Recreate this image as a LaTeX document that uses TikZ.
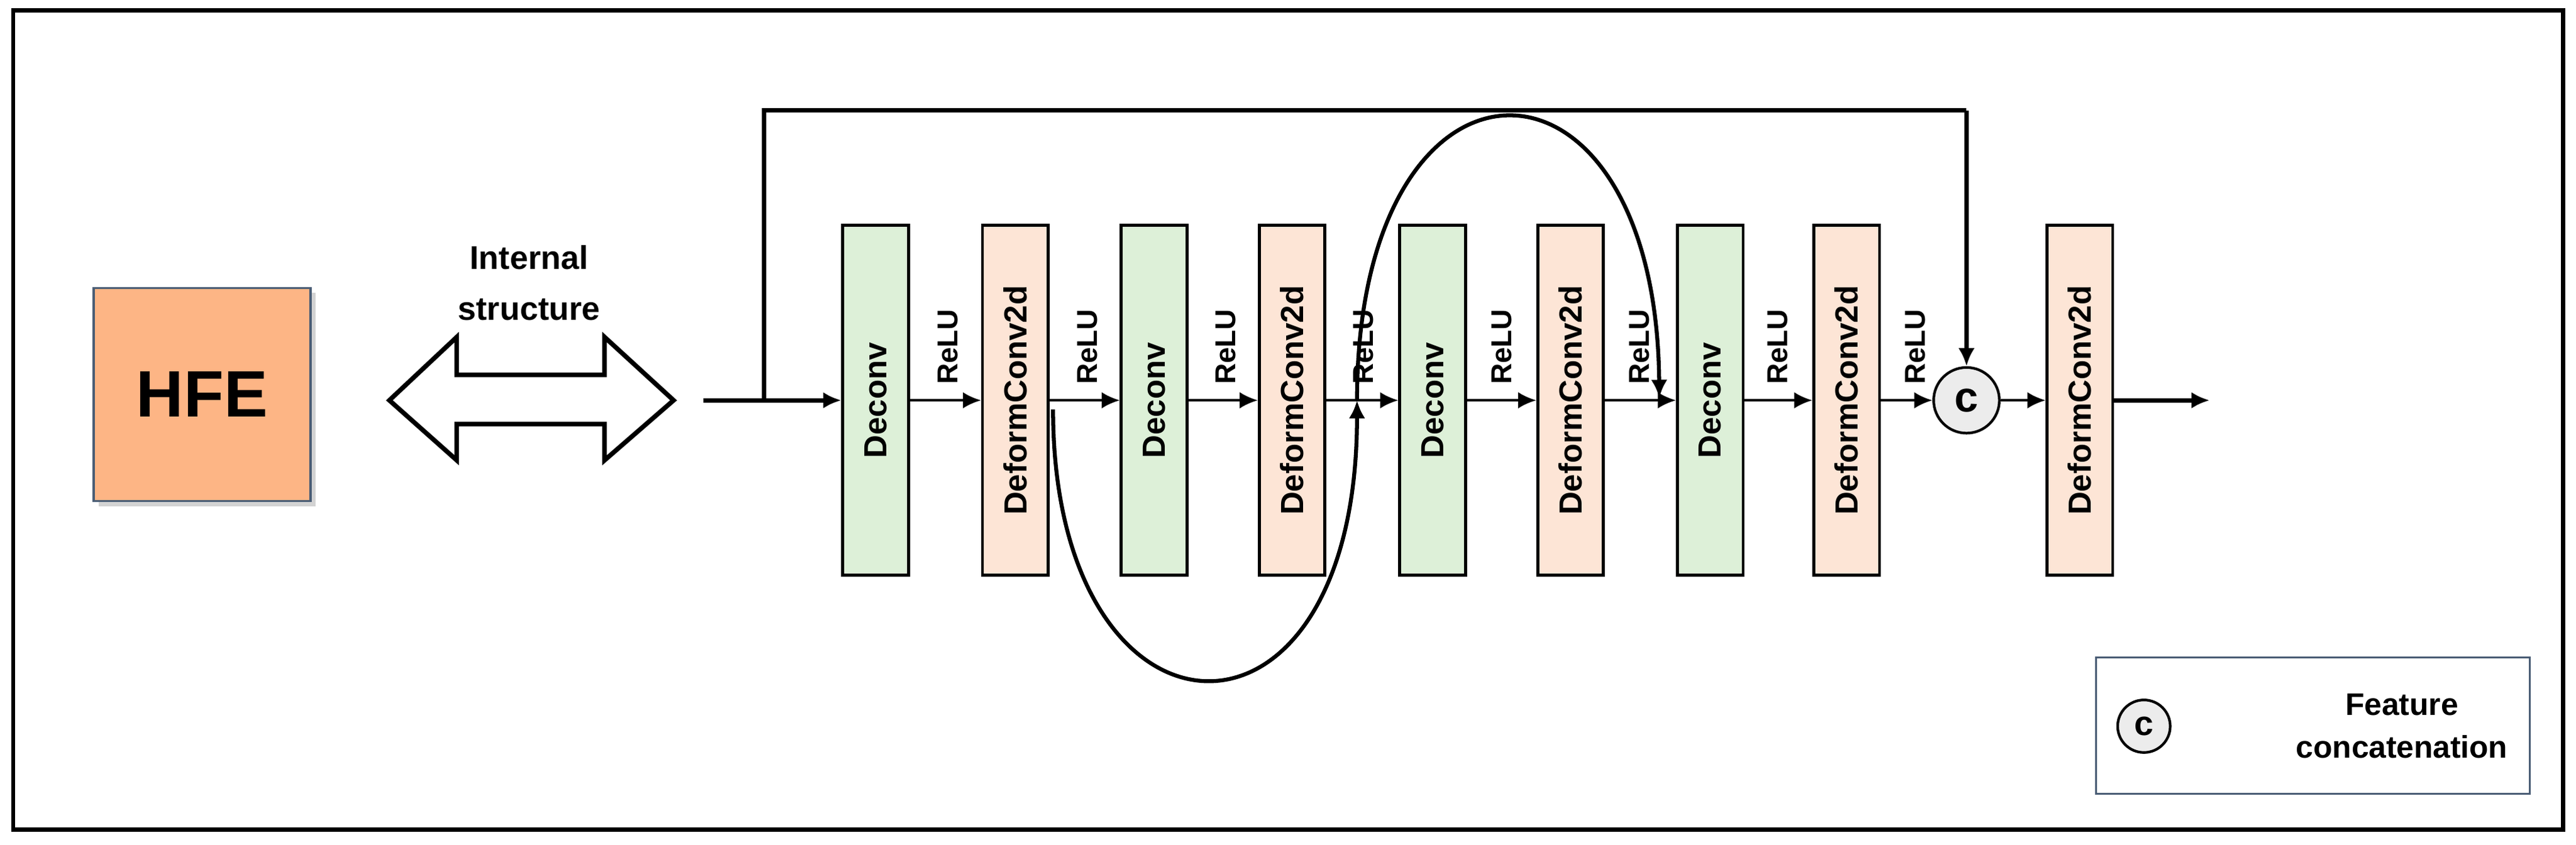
\documentclass[tikz,border=0pt]{standalone}
\usepackage{fontspec}
\setmainfont{Liberation Sans}
\usetikzlibrary{arrows.meta,shadows}
\definecolor{dcgreen}{HTML}{DDF0D8}
\definecolor{dforange}{HTML}{FDE5D6}
\definecolor{hfe}{HTML}{FDB585}
\definecolor{hfeb}{HTML}{4A5D75}
\begin{document}
\begin{tikzpicture}[x=1pt,y=1pt,
  blk/.style={draw,line width=1.8pt,minimum width=40pt,minimum height=213pt,inner sep=0pt},
  dc/.style={blk,fill=dcgreen},
  df/.style={blk,fill=dforange},
  lbl/.style={rotate=90,font=\bfseries\fontsize{19.5}{19.5}\selectfont},
  relu/.style={rotate=90,anchor=west,font=\bfseries\fontsize{17.5}{17.5}\selectfont,inner sep=0pt},
  arr/.style={-{Latex[length=11pt,width=10pt]},line width=1.4pt},
  cat/.style={circle,draw,line width=1.6pt,fill=gray!15,font=\bfseries\fontsize{26}{26}\selectfont,inner sep=0pt}]
\useasboundingbox (0,0) rectangle (1568,514.3);
\draw[line width=2.6pt] (8,9) rectangle (1560,508);
% HFE
\node[draw=hfeb,line width=1.2pt,fill=hfe,minimum width=132pt,minimum height=130pt,drop shadow={shadow xshift=3pt,shadow yshift=-3pt,opacity=0.35},font=\bfseries\fontsize{40}{40}\selectfont] (hfe) at (123,274) {HFE};
% double arrow
\draw[line width=2.8pt,line join=miter] (237,270.5) -- (278,309) -- (278,286) -- (368,286) -- (368,309) -- (410,270.5) -- (368,234) -- (368,256) -- (278,256) -- (278,234) -- cycle;
\node[align=center,font=\bfseries\fontsize{20}{31}\selectfont] (is) at (322,342) {Internal\\structure};
% blocks
\node[dc] (b1) at (533,270.5) {}; \node[lbl] at (b1) {Deconv};
\node[df] (b2) at (618,270.5) {}; \node[lbl] at (b2) {DeformConv2d};
\node[dc] (b3) at (702.5,270.5) {}; \node[lbl] at (b3) {Deconv};
\node[df] (b4) at (786.5,270.5) {}; \node[lbl] at (b4) {DeformConv2d};
\node[dc] (b5) at (872,270.5) {}; \node[lbl] at (b5) {Deconv};
\node[df] (b6) at (956,270.5) {}; \node[lbl] at (b6) {DeformConv2d};
\node[dc] (b7) at (1041,270.5) {}; \node[lbl] at (b7) {Deconv};
\node[df] (b8) at (1124,270.5) {}; \node[lbl] at (b8) {DeformConv2d};
\node[cat,minimum size=40pt] (c) at (1197,270.5) {c};
\node[df] (b9) at (1266,270.5) {}; \node[lbl] at (b9) {DeformConv2d};
\coordinate (in) at (428,270.5);
\coordinate (sk) at (465,270.5);
\coordinate (out) at (1345,270.5);
% connectors
\draw[arr,line width=2.6pt] (in) -- (b1.west);
\draw[line width=2.6pt] (sk) -- (465,447) -- (1197,447);
\draw[arr,line width=2.6pt] (1197,447) -- (c.north);
\draw[arr] (b1.east) -- (b2.west);
\draw[arr] (b2.east) -- (b3.west);
\draw[arr] (b3.east) -- (b4.west);
\draw[arr] (b4.east) -- (b5.west);
\draw[arr] (b5.east) -- (b6.west);
\draw[arr] (b6.east) -- (b7.west);
\draw[arr] (b7.east) -- (b8.west);
\draw[arr] (b8.east) -- (c.west);
\draw[arr] (c.east) -- (b9.west);
\draw[arr,line width=2.6pt] (b9.east) -- (out);
% ReLU labels
\foreach \x in {577,662,746,830,914,998,1082,1166} \node[relu] at (\x,280) {ReLU};
% loops
\coordinate (l1) at (641,265);
\coordinate (l2) at (826,270.5);
\coordinate (l3) at (1010,272);
\draw[arr,line width=2.4pt] (l1) .. controls (641,50) and (826,40) .. (l2);
\draw[arr,line width=2.4pt] (l2) .. controls (826,500) and (1008,500) .. (l3);
% legend
\draw[draw=hfeb,line width=1.2pt] (1276,31) rectangle (1540,114);
\node[cat,minimum size=32pt,font=\bfseries\fontsize{21}{21}\selectfont] (lc) at (1305,72) {c};
\node[align=center,font=\bfseries\fontsize{19}{26}\selectfont] (lt) at (1462,72) {Feature\\concatenation};
\end{tikzpicture}
\end{document}
